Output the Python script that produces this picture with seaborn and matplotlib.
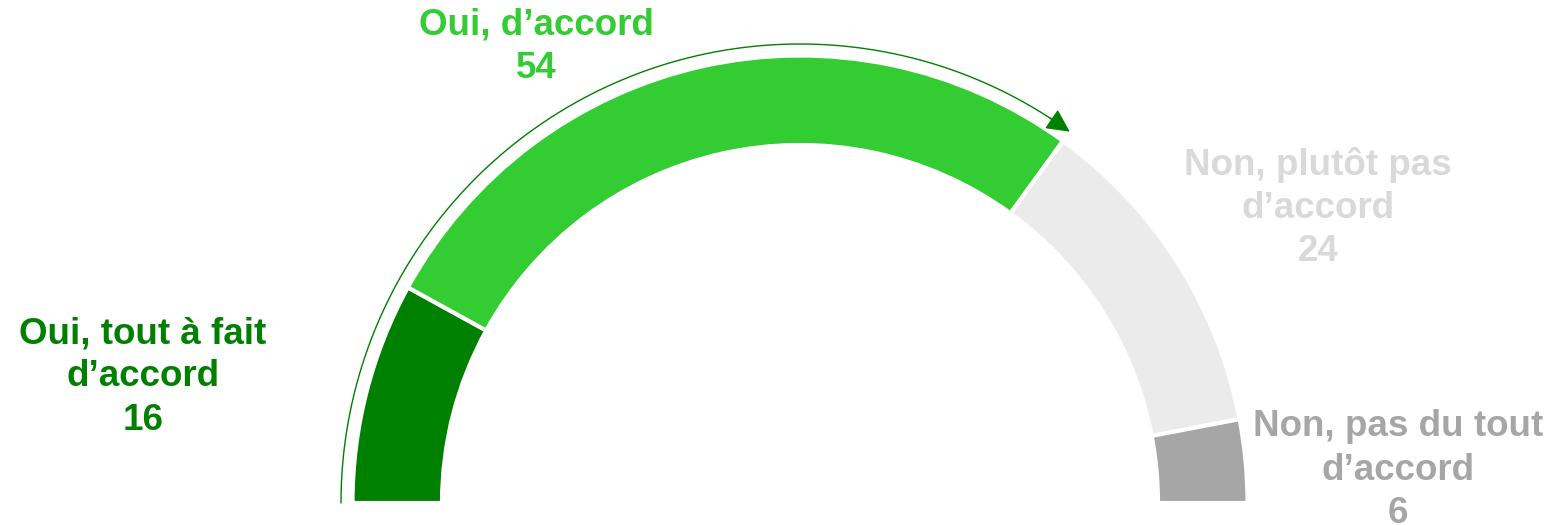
import numpy as np
import seaborn as sns
import matplotlib.pyplot as plt

labels = ["Oui, tout à fait\nd’accord", "Oui, d’accord",
          "Non, plutôt pas\nd’accord", "Non, pas du tout\nd’accord"]
values = [16, 54, 24, 6]
colors = ["#008000", "#33CC33", "#EBEBEB", "#A6A6A6"]
text_colors = ["#008000", "#33CC33", "#D9D9D9", "#A6A6A6"]

sns.set_theme(style="white")
plt.rcParams['font.family'] = ['Liberation Sans', 'DejaVu Sans']

fig = plt.figure(figsize=(15.55, 5.25), dpi=100)
ax = fig.add_axes([0, 0, 1, 1])

cx, cy = 800, 22
R, w = 447.5, 89.5

# half donut: add an invisible lower half
wedges, _ = ax.pie(values + [sum(values)], colors=colors + ["none"],
                   startangle=180, counterclock=False, center=(cx, cy),
                   radius=R, wedgeprops=dict(width=w, edgecolor="white", linewidth=3))
wedges[-1].set_edgecolor("none")

# arrow arc over the "oui" total
yes_total = values[0] + values[1]
end_ang = 180 - yes_total / 100 * 180
ra = 459
th = np.radians(np.linspace(180, end_ang + 2.5, 200))
ax.plot(cx + ra * np.cos(th), cy + ra * np.sin(th), color="#008000", lw=1.0)
a0, a1 = np.radians(end_ang + 3.0), np.radians(end_ang)
ax.annotate("", xy=(cx + ra * np.cos(a1), cy + ra * np.sin(a1)),
            xytext=(cx + ra * np.cos(a0), cy + ra * np.sin(a0)),
            arrowprops=dict(arrowstyle="-|>", mutation_scale=36, color="#008000", lw=1.0,
                            shrinkA=0, shrinkB=0))

# labels
positions = [(143, 377), (536, 47), (1318, 208), (1398, 470)]
for lab, v, col, (x, y) in zip(labels, values, text_colors, positions):
    ax.text(x, 525 - y, f"{lab}\n{v}", color=col, ha="center", va="center",
            fontsize=26.5, fontweight="bold", linespacing=1.3)

ax.set_xlim(0, 1555)
ax.set_ylim(0, 525)
ax.set_aspect("equal")
ax.axis("off")

fig.savefig("out.png", dpi=100)
